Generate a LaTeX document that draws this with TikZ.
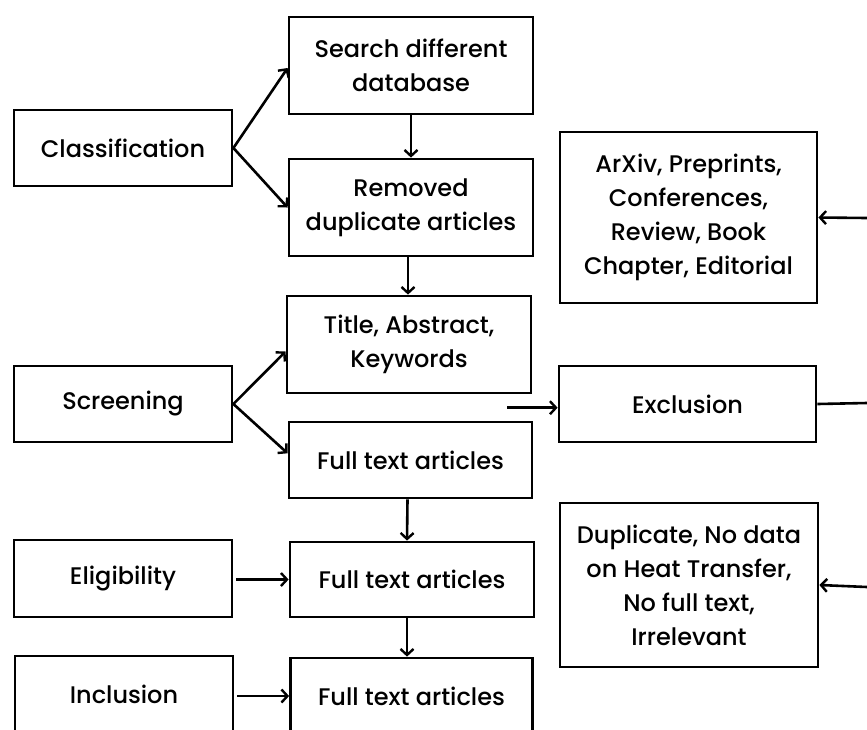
\documentclass[tikz,border=0pt]{standalone}
\usepackage{fontspec}
\setmainfont{Poppins}[UprightFont={* Medium}]
\usetikzlibrary{arrows.meta}
\begin{document}
\begin{tikzpicture}[x=1pt,y=-1pt,
  box/.style={draw, line width=2.8pt, inner sep=0pt, align=center,
    font=\fontsize{24}{34}\selectfont},
  arr/.style={line width=2.6pt, -{Straight Barb[length=6pt,width=13pt,line width=2.4pt]}},
  ln/.style={line width=2.6pt}]
\useasboundingbox (0,0) rectangle (867,729);
% left column
\node[box, minimum width=218, minimum height=76] (cls) at (123,148) {Classification};
\node[box, minimum width=218, minimum height=76] (scr) at (123,404) {Screening};
\node[box, minimum width=218, minimum height=77] (eli) at (123,578.5) {Eligibility};
\node[box, minimum width=218, minimum height=76] (inc) at (124,694) {Inclusion};
% middle column
\node[box, minimum width=244, minimum height=97] (sea) at (411,65.5) {Search different\\database};
\node[box, minimum width=244, minimum height=97] (rem) at (411,207.5) {Removed\\duplicate articles};
\node[box, minimum width=244, minimum height=97] (tit) at (409,344.5) {Title, Abstract,\\Keywords};
\node[box, minimum width=243, minimum height=76] (fa) at (410.5,460) {Full text articles};
\node[box, minimum width=244, minimum height=75] (fb) at (412,579.5) {Full text articles};
\node[box, minimum width=242, minimum height=76] (fc) at (411.5,696) {Full text articles};
% right column
\node[box, minimum width=257, minimum height=171] (arx) at (688.5,217.5) {ArXiv, Preprints,\\Conferences,\\Review, Book\\Chapter, Editorial};
\node[box, minimum width=257, minimum height=76] (exc) at (687.5,404) {Exclusion};
\node[box, minimum width=258, minimum height=164] (dup) at (689,585) {Duplicate, No data\\on Heat Transfer,\\No full text,\\Irrelevant};
% free ends
\coordinate (exin) at (507,407.7);
\coordinate (ra) at (867,218);
\coordinate (rb) at (867,403);
\coordinate (rc) at (867,587);
% connectors
\draw[arr] (cls.east) -- ([yshift=-2.5]sea.west);
\draw[arr] (cls.east) -- (rem.west);
\draw[arr] (sea.south) -- (rem.north);
\draw[arr] ([xshift=-3]rem.south) -- ([xshift=-1]tit.north);
\draw[arr] (scr.east) -- ([yshift=-7]tit.west);
\draw[arr] (scr.east) -- ([yshift=6.7]fa.west);
\draw[arr] ([xshift=-3]fa.south) -- ([xshift=-5]fb.north);
\draw[arr] ([xshift=-5]fb.south) -- ([xshift=-4.5]fc.north);
\draw[arr] ([xshift=3]eli.east |- fb.west) -- (fb.west);
\draw[arr] ([xshift=3]inc.east |- fc.west) -- (fc.west);
\draw[arr] (exin) -- (exc.west |- exin);
\draw[ln] (exc.east) -- (rb);
\draw[arr] (ra) -- (arx.east);
\draw[arr] (rc) -- (dup.east);
\end{tikzpicture}
\end{document}
